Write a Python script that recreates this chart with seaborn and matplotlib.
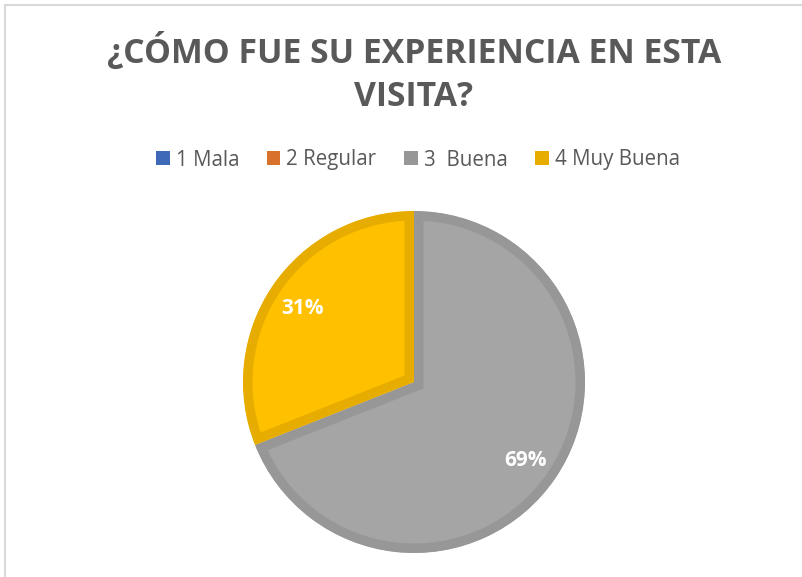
import matplotlib
matplotlib.use("Agg")
import matplotlib.pyplot as plt
import seaborn as sns
import pandas as pd
import numpy as np
from matplotlib.patches import Patch, Rectangle

categories = ["1 Mala", "2 Regular", "3  Buena", "4 Muy Buena"]
values = [0, 0, 69, 31]
fill_colors = ["#4472C4", "#ED7D31", "#A5A5A5", "#FFC000"]
edge_colors = ["#3E68B8", "#D8712C", "#979797", "#E6AC00"]
title_lines = ["¿CÓMO FUE SU EXPERIENCIA EN ESTA", "VISITA?"]

df = pd.DataFrame({"cat": categories, "val": values})

sns.set_theme(style="white")
plt.rcParams["font.family"] = ["Open Sans", "DejaVu Sans"]

W, H = 803, 577
fig = plt.figure(figsize=(W / 100, H / 100), dpi=100)
fig.patch.set_facecolor("white")

# chart frame
fig.add_artist(Rectangle((5 / W, -0.01), 1.0, 1.0 - 5 / H + 0.01, transform=fig.transFigure,
                         fill=False, edgecolor="#D9D9D9", linewidth=1.5))

cx, cy, half = 414, 382, 180
ax = fig.add_axes([(cx - half) / W, (H - cy - half) / H, 2 * half / W, 2 * half / H])
radius = 171 / half

wedges, _ = ax.pie(df["val"], colors=fill_colors, startangle=90, counterclock=False,
                   radius=radius, wedgeprops=dict(linewidth=0))
for w, ec, v in zip(wedges, edge_colors, df["val"]):
    if v > 0:
        w.set_edgecolor(ec)
        w.set_linewidth(19 * 72 / 100)
        w.set_clip_on(True)
        w.set_clip_path(w)
    else:
        w.set_visible(False)

# percentage labels
total = df["val"].sum()
start = 90.0
for v in df["val"]:
    if v > 0:
        mid = start - v / total * 360 / 2
        r = 0.79 * radius
        ax.text(r * np.cos(np.radians(mid)), r * np.sin(np.radians(mid)) - 0.015,
                f"{v / total * 100:.0f}%",
                ha="center", va="center", color="white", fontsize=15, fontweight="bold")
    start -= v / total * 360

ax.set_xlim(-1, 1)
ax.set_ylim(-1, 1)
ax.set_aspect("equal")
ax.axis("off")

for line, base in zip(title_lines, [63, 106]):
    fig.text(414 / W, 1 - base / H, line, ha="center", va="baseline", fontsize=24.3,
             fontweight="bold", color="#595959")

handles = [Patch(facecolor=c, edgecolor="none") for c in edge_colors]
fig.legend(handles, categories, loc="center", bbox_to_anchor=(418 / W, 1 - 160 / H), ncol=4,
           frameon=False, fontsize=14.8, labelcolor="#595959", handlelength=0.65, handleheight=0.65,
           handletextpad=0.3, columnspacing=1.35)

fig.savefig("out.png", dpi=100, facecolor="white")
